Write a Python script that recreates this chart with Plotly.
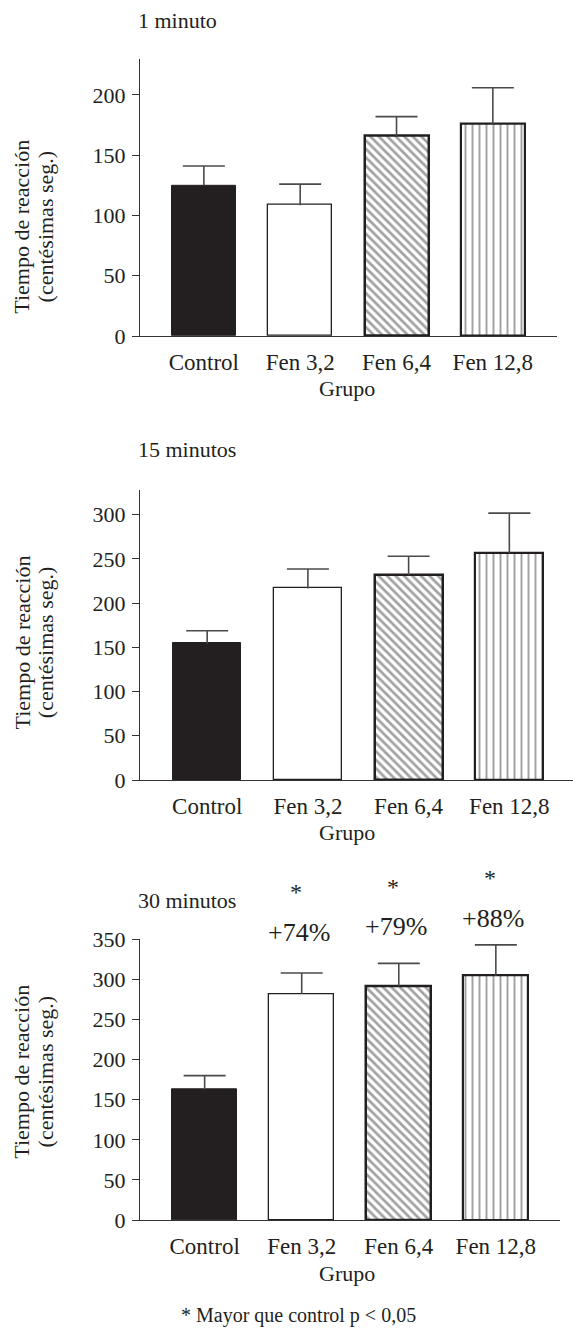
import plotly.graph_objects as go

# ---------------- data ----------------
groups = ["Control", "Fen 3,2", "Fen 6,4", "Fen 12,8"]

tiempo_1min = [125, 108.5, 166, 176]
sem_1min = [16, 17.5, 16, 30]

tiempo_15min = [154.5, 216.6, 231.6, 256.8]
sem_15min = [14.3, 22, 21.5, 45]

tiempo_30min = [162.5, 282, 291, 305]
sem_30min = [17.5, 26, 29, 38]

pct_30min = ["+74%", "+79%", "+88%"]
pct_groups = ["Fen 3,2", "Fen 6,4", "Fen 12,8"]
pct_y = [358, 366, 376]
star_y = [409, 415, 426]

panel_titles = ["1 minuto", "15 minutos", "30 minutos"]
y_ranges = [[0, 230], [0, 328], [0, 350]]
y_ticks = [[0, 50, 100, 150, 200], [0, 50, 100, 150, 200, 250, 300],
           [0, 50, 100, 150, 200, 250, 300, 350]]

# ---------------- layout geometry ----------------
W, H = 573, 1329
FONT = "Liberation Serif, Times New Roman, serif"
DARK = "#231f20"
TXT = "#231f20"
ERR = "#4a4a4a"

def py(px):
    return 1 - px / H

panels = [
    dict(xd=(140, 557), yd=(58.8, 336), xr=[-0.663, 3.666], bw=0.664,
         title_y=21, grupo_y=388, ytitle_y=226.7),
    dict(xd=(140, 573), yd=(490, 780), xr=[-0.667, 3.632], bw=0.675,
         title_y=449, grupo_y=832, ytitle_y=642.5),
    dict(xd=(140, 560), yd=(939.3, 1220), xr=[-0.666, 3.661], bw=0.67,
         title_y=900.7, grupo_y=1273, ytitle_y=1071.7),
]

series = [(tiempo_1min, sem_1min), (tiempo_15min, sem_15min), (tiempo_30min, sem_30min)]

fig = go.Figure()
annotations = []

for i, (p, (vals, sems)) in enumerate(zip(panels, series)):
    ax = "" if i == 0 else str(i + 1)
    fig.add_trace(go.Bar(
        x=groups, y=vals,
        xaxis="x" + ax, yaxis="y" + ax,
        width=p["bw"],
        marker=dict(
            color=[DARK, "white", "white", "white"],
            line=dict(color=DARK, width=[1, 1.3, 2.5, 2.2]),
            pattern=dict(shape=["", "", "\\", "|"], fgcolor=DARK,
                         size=[6, 6, 6, 7], solidity=[0.3, 0.3, 0.45, 0.28],
                         fillmode="overlay"),
        ),
        showlegend=False,
    ))
    # upper error bar: whisker from bar top plus a cap only at the top end
    tops = [v + s for v, s in zip(vals, sems)]
    fig.add_trace(go.Scatter(
        x=groups, y=tops, mode="markers",
        xaxis="x" + ax, yaxis="y" + ax,
        marker=dict(symbol="line-ew", size=30, color=ERR,
                    line=dict(color=ERR, width=1.6)),
        error_y=dict(type="data", symmetric=False, array=[0] * len(sems),
                     arrayminus=sems, color=ERR, thickness=1.6, width=0),
        showlegend=False, cliponaxis=False,
    ))
    xd = [p["xd"][0] / W, p["xd"][1] / W]
    yd = [py(p["yd"][1]), py(p["yd"][0])]
    fig.layout["xaxis" + ax] = dict(
        domain=xd, anchor="y" + ax, type="category", range=p["xr"],
        showline=True, linecolor="#333333", linewidth=1.3,
        ticks="", showgrid=False, zeroline=False, automargin=False,
        tickfont=dict(family=FONT, size=23, color=TXT),
        ticklabelstandoff=5,
    )
    fig.layout["yaxis" + ax] = dict(
        domain=yd, anchor="x" + ax, range=y_ranges[i], tickvals=y_ticks[i],
        showline=True, linecolor="#333333", linewidth=1.3,
        ticks="outside", ticklen=7, tickcolor="#333333", tickwidth=1.3,
        showgrid=False, zeroline=False, automargin=False,
        tickfont=dict(family=FONT, size=22, color=TXT),
        ticklabelstandoff=2,
    )
    annotations.append(dict(text=panel_titles[i], xref="paper", yref="paper",
                            x=136 / W, y=py(p["title_y"]), xanchor="left", yanchor="middle",
                            showarrow=False, font=dict(family=FONT, size=22, color=TXT)))
    annotations.append(dict(text="Grupo", xref="paper", yref="paper",
                            x=347 / W, y=py(p["grupo_y"]),
                            xanchor="center", yanchor="middle",
                            showarrow=False, font=dict(family=FONT, size=22, color=TXT)))
    annotations.append(dict(text="Tiempo de reacción", xref="paper", yref="paper",
                            x=22 / W, y=py(p["ytitle_y"]), xanchor="center", yanchor="middle",
                            textangle=-90, showarrow=False,
                            font=dict(family=FONT, size=22, color=TXT)))
    annotations.append(dict(text="(centésimas seg.)", xref="paper", yref="paper",
                            x=45.7 / W, y=py(p["ytitle_y"]), xanchor="center", yanchor="middle",
                            textangle=-90, showarrow=False,
                            font=dict(family=FONT, size=22, color=TXT)))

y3max = y_ranges[2][1]
for g, t, yp, ys in zip(pct_groups, pct_30min, pct_y, star_y):
    annotations.append(dict(text=t, xref="x3", yref="y3 domain", x=g, y=yp / y3max, xshift=-3,
                            xanchor="center", yanchor="middle", showarrow=False,
                            font=dict(family=FONT, size=26, color=TXT)))
    annotations.append(dict(text="*", xref="x3", yref="y3 domain", x=g, y=ys / y3max, xshift=-6,
                            xanchor="center", yanchor="middle", showarrow=False,
                            font=dict(family=FONT, size=24, color=TXT)))

annotations.append(dict(text="* Mayor que control p < 0,05", xref="paper", yref="paper",
                        x=298 / W, y=py(1315), xanchor="center", yanchor="middle",
                        showarrow=False, font=dict(family=FONT, size=20, color=TXT)))

fig.update_layout(
    width=W, height=H, autosize=False,
    margin=dict(l=0, r=0, t=0, b=0),
    paper_bgcolor="white", plot_bgcolor="white",
    annotations=annotations,
    bargap=0,
)

fig.write_html("out.html", config={"displayModeBar": False},
               post_script="document.body.style.margin='0';document.body.style.padding='0';")
